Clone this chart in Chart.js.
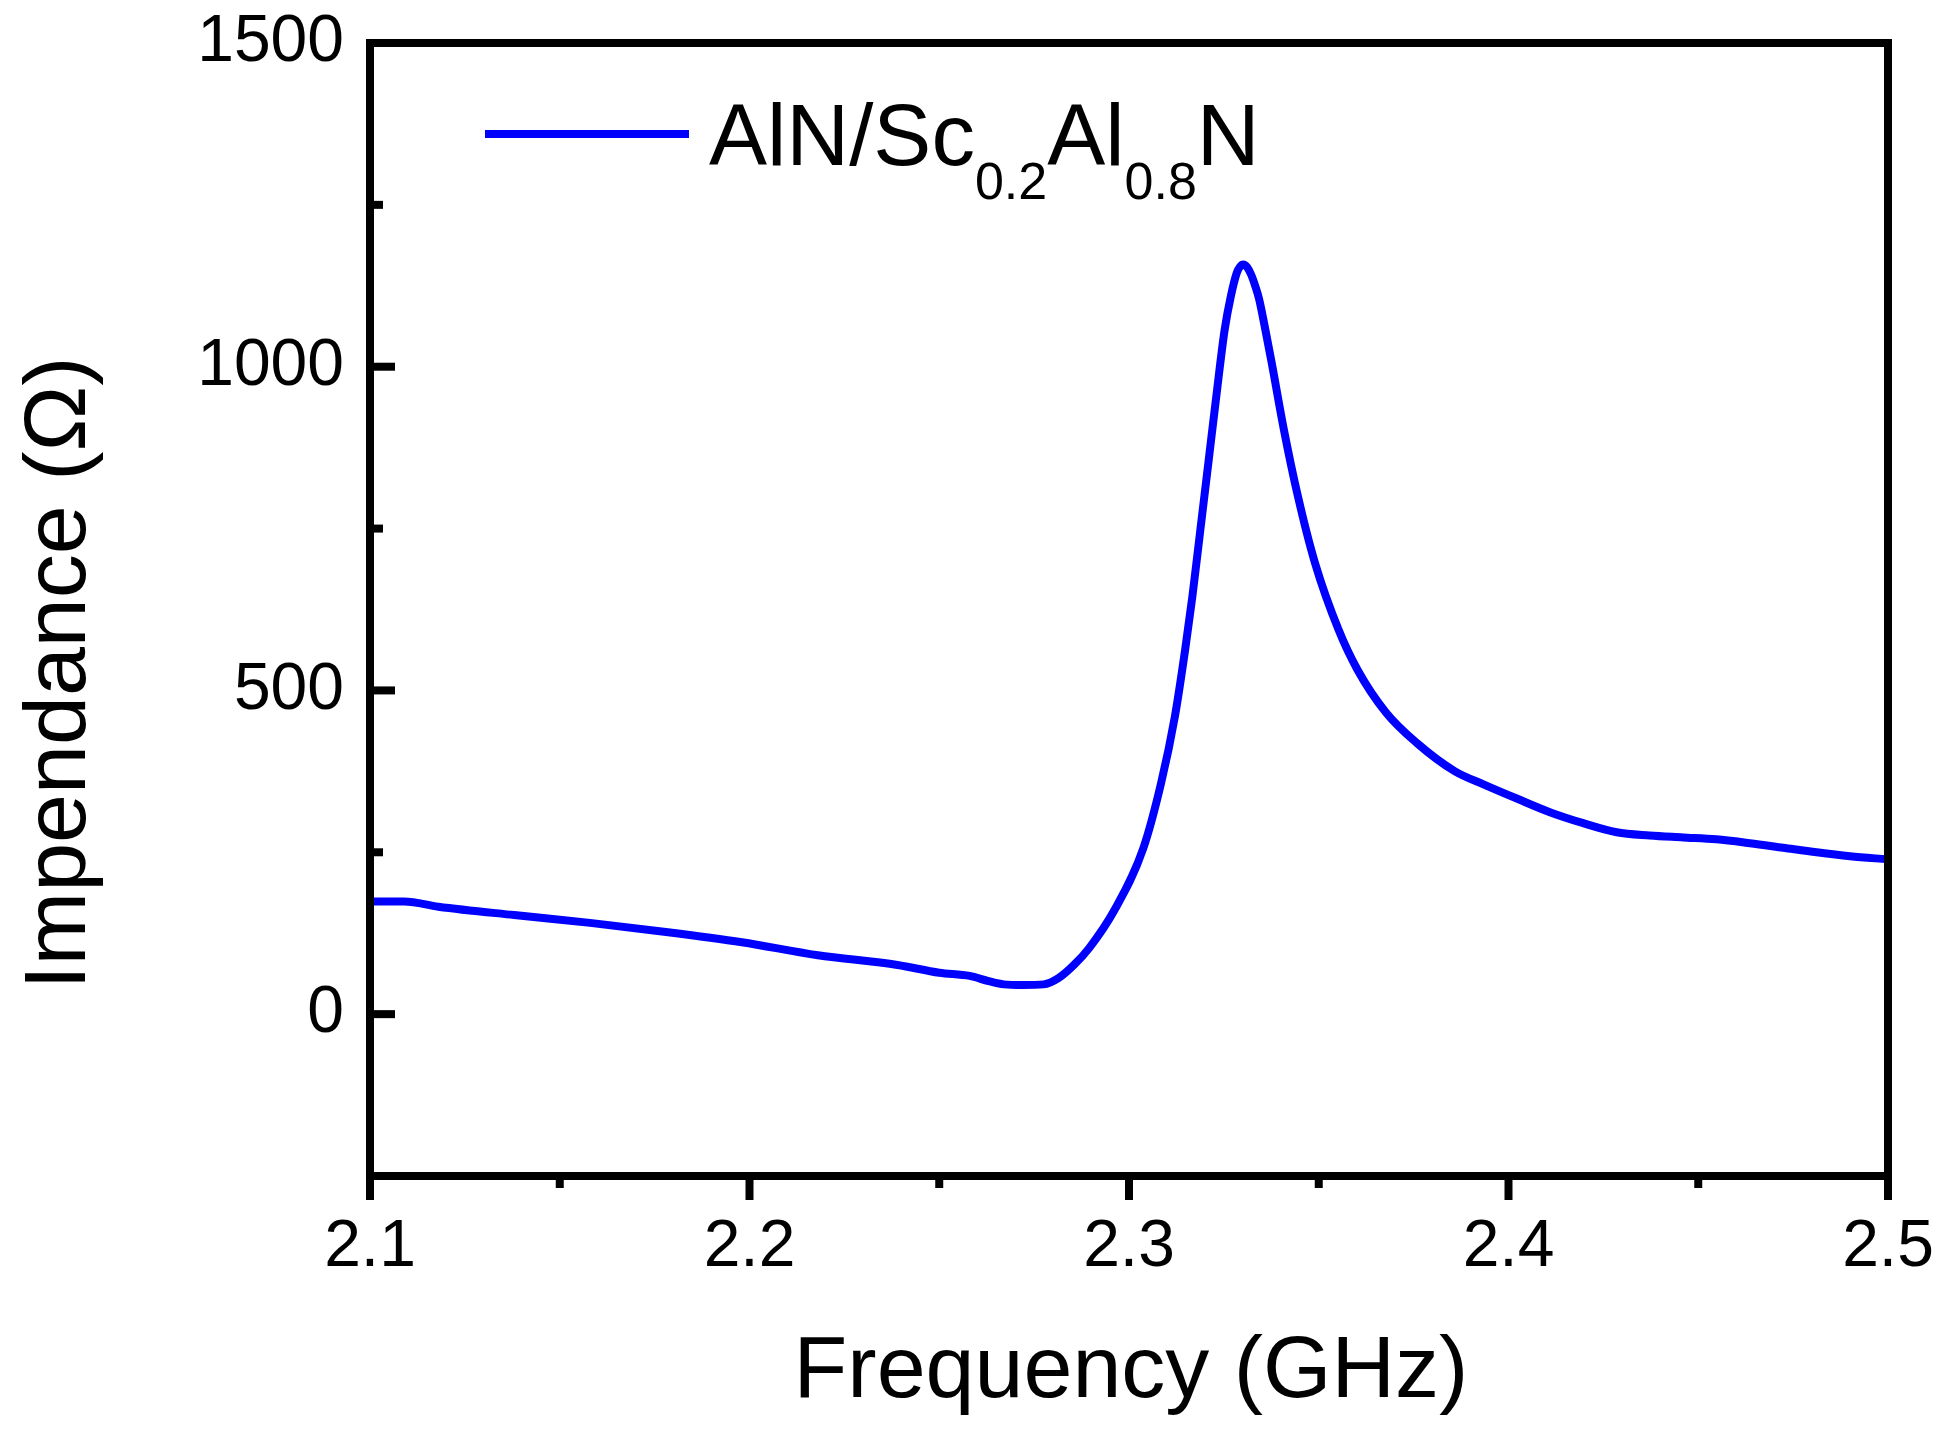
<!DOCTYPE html>
<html>
<head>
<meta charset="utf-8">
<script src="https://cdn.jsdelivr.net/npm/chart.js@4.4.1/dist/chart.umd.min.js"></script>
<style>
  html, body { margin: 0; padding: 0; background: #fff; }
  #wrap { width: 1944px; height: 1432px; }
</style>
</head>
<body>
<div id="wrap"><canvas id="impChart"></canvas></div>
<script>
// Data
const freqGHz = [2.100, 2.109, 2.118, 2.138, 2.158, 2.178, 2.198, 2.218, 2.239, 2.250,
                 2.258, 2.263, 2.267, 2.272, 2.2775, 2.2815, 2.2855, 2.2895, 2.2961, 2.3037,
                 2.3085, 2.3121, 2.3148, 2.3167, 2.3188, 2.3209, 2.3230, 2.3252, 2.3268, 2.3284,
                 2.3293, 2.3301, 2.3311, 2.3322, 2.3333, 2.3343, 2.3360, 2.3376, 2.3408, 2.3445,
                 2.3490, 2.3552, 2.3602, 2.3677, 2.3758, 2.3859, 2.3934, 2.4022, 2.4109, 2.4197,
                 2.4285, 2.4372, 2.446, 2.4548, 2.4636, 2.4724, 2.4812, 2.49, 2.50];
const impedance = [174, 174, 166, 153, 141, 127, 111, 91, 76, 64,
                   59, 51, 46, 45, 46, 56, 76, 102, 160, 255,
                   358, 460, 563, 645, 748, 851, 954, 1057, 1108, 1145,
                   1155, 1158, 1154, 1142, 1124, 1104, 1055, 1006, 903, 800,
                   697, 594, 532, 466, 419, 375, 355, 333, 312, 295,
                   281, 276, 273, 270, 264, 257, 250, 244, 239];

const xTicks = [2.1, 2.2, 2.3, 2.4, 2.5];
const xMinorTicks = [2.15, 2.25, 2.35, 2.45];
const yTicks = [0, 500, 1000, 1500];
const yMinorTicks = [-250, 250, 750, 1250];

const seriesColor = '#0000ff';
const fontFamily = '"Liberation Sans", Arial, sans-serif';

// Frame, inward/outward ticks, axis titles and the subscript legend
const framePlugin = {
    id: 'framePlugin',
    afterDatasetsDraw(chart) {
        const ctx = chart.ctx;
        const a = chart.chartArea;
        const xs = chart.scales.x;
        const ys = chart.scales.y;
        ctx.save();
        ctx.strokeStyle = '#000';
        ctx.lineWidth = 8;
        ctx.lineCap = 'square';
        ctx.strokeRect(a.left, a.top, a.right - a.left, a.bottom - a.top);

        // y ticks point into the plot
        ctx.lineCap = 'butt';
        yTicks.forEach(v => {
            const py = ys.getPixelForValue(v);
            ctx.beginPath(); ctx.moveTo(a.left, py); ctx.lineTo(a.left + 25, py); ctx.stroke();
        });
        yMinorTicks.forEach(v => {
            const py = ys.getPixelForValue(v);
            if (py > a.bottom - 2) return;
            ctx.beginPath(); ctx.moveTo(a.left, py); ctx.lineTo(a.left + 13, py); ctx.stroke();
        });
        // x ticks point down, outside
        xTicks.forEach(v => {
            const px = xs.getPixelForValue(v);
            ctx.beginPath(); ctx.moveTo(px, a.bottom); ctx.lineTo(px, a.bottom + 24); ctx.stroke();
        });
        xMinorTicks.forEach(v => {
            const px = xs.getPixelForValue(v);
            ctx.beginPath(); ctx.moveTo(px, a.bottom); ctx.lineTo(px, a.bottom + 12); ctx.stroke();
        });

        // axis titles
        ctx.fillStyle = '#000';
        ctx.font = '88px ' + fontFamily;
        ctx.textAlign = 'center';
        ctx.textBaseline = 'alphabetic';
        ctx.fillText('Frequency (GHz)', 1131, 1397);

        ctx.save();
        ctx.translate(85, 673);
        ctx.rotate(-Math.PI / 2);
        ctx.fillText('Impendance (\u03A9)', 0, 0);
        ctx.restore();

        // legend
        ctx.strokeStyle = seriesColor;
        ctx.lineWidth = 8;
        ctx.beginPath(); ctx.moveTo(485, 134); ctx.lineTo(689, 134); ctx.stroke();

        const parts = [
            ['AlN/Sc', 87, 0],
            ['0.2', 52, 34],
            ['Al', 87, 0],
            ['0.8', 52, 34],
            ['N', 87, 0]
        ];
        let tx = 709;
        ctx.textAlign = 'left';
        parts.forEach(p => {
            ctx.font = p[1] + 'px ' + fontFamily;
            ctx.fillText(p[0], tx, 165 + p[2]);
            tx += ctx.measureText(p[0]).width;
        });
        ctx.restore();
    }
};

// the tick labels must not push the plot area inwards
const noPadding = (scale) => {
    scale.paddingTop = 0;
    scale.paddingBottom = 0;
    scale.paddingLeft = 0;
    scale.paddingRight = 0;
};

document.addEventListener("DOMContentLoaded", () => {
    const ctx = document.getElementById('impChart').getContext('2d');
    const points = freqGHz.map((f, i) => ({ x: f, y: impedance[i] }));

    new Chart(ctx, {
        type: 'line',
        data: {
            datasets: [{
                label: 'AlN/Sc0.2Al0.8N',
                data: points,
                borderColor: seriesColor,
                borderWidth: 8,
                pointRadius: 0,
                fill: false,
                cubicInterpolationMode: 'monotone'
            }]
        },
        options: {
            responsive: true,
            maintainAspectRatio: false,
            animation: false,
            layout: { padding: { top: 43, right: 56, left: 0, bottom: 0 } },
            plugins: {
                legend: { display: false },
                tooltip: { enabled: false }
            },
            scales: {
                x: {
                    type: 'linear',
                    min: 2.1,
                    max: 2.5,
                    afterFit: (scale) => { scale.height = 256; noPadding(scale); },
                    afterBuildTicks: (scale) => { scale.ticks = xTicks.map(v => ({ value: v })); },
                    grid: { display: false, drawTicks: false },
                    border: { display: false },
                    ticks: {
                        padding: 32,
                        maxRotation: 0,
                        color: '#000',
                        font: { family: fontFamily, size: 66 },
                        callback: (v) => v.toFixed(1)
                    }
                },
                y: {
                    min: -250,
                    max: 1500,
                    afterFit: (scale) => { scale.width = 370; noPadding(scale); },
                    afterBuildTicks: (scale) => { scale.ticks = yTicks.map(v => ({ value: v })); },
                    grid: { display: false, drawTicks: false },
                    border: { display: false },
                    ticks: {
                        padding: 26,
                        color: '#000',
                        font: { family: fontFamily, size: 66 },
                        callback: (v) => String(v)
                    }
                }
            }
        },
        plugins: [framePlugin]
    });
});
</script>
</body>
</html>
